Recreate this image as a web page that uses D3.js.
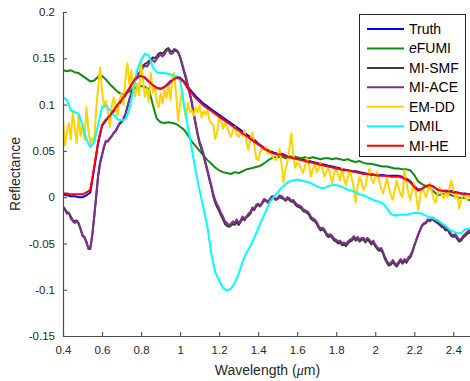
<!DOCTYPE html>
<html>
<head>
<meta charset="utf-8">
<script src="https://cdn.jsdelivr.net/npm/d3@7"></script>
<style>
  html, body { margin: 0; padding: 0; background: #fff; }
  svg { display: block; font-family: "Liberation Sans", Arial, Helvetica, sans-serif; }
</style>
</head>
<body>
<svg id="chart" width="470" height="381"></svg>
<script>
// Band centres (µm): 0.02 µm spacing for the smooth signatures, 0.01 µm for the noisy ones
const bands = d3.range(0, 106).map(i => +(0.40 + i * 0.02).toFixed(2));
const bandsFine = d3.range(0, 211).map(i => +(0.40 + i * 0.01).toFixed(2));

const truth = [
  0.003,0.002,0.001,0.001,0.000,0.000,0.002,0.005,0.031,0.058,
  0.077,0.083,0.087,0.093,0.099,0.104,0.110,0.117,0.124,0.129,
  0.131,0.129,0.125,0.121,0.118,0.117,0.119,0.123,0.127,0.130,
  0.129,0.125,0.119,0.114,0.109,0.105,0.101,0.098,0.095,0.092,
  0.089,0.086,0.083,0.080,0.077,0.074,0.071,0.068,0.065,0.062,
  0.058,0.055,0.052,0.050,0.048,0.047,0.047,0.045,0.044,0.043,
  0.042,0.041,0.040,0.039,0.038,0.037,0.036,0.035,0.034,0.033,
  0.032,0.031,0.030,0.029,0.028,0.028,0.027,0.026,0.025,0.025,
  0.024,0.024,0.024,0.023,0.023,0.023,0.023,0.022,0.020,0.017,
  0.012,0.008,0.009,0.012,0.013,0.011,0.008,0.007,0.007,0.007,
  0.006,0.005,0.004,0.004,0.003,0.003
];

const efumi = [
  0.137,0.136,0.137,0.135,0.134,0.131,0.128,0.125,0.126,0.130,
  0.131,0.127,0.122,0.118,0.114,0.111,0.112,0.114,0.117,0.119,
  0.120,0.119,0.117,0.100,0.085,0.081,0.080,0.081,0.080,0.079,
  0.076,0.073,0.067,0.060,0.055,0.050,0.045,0.040,0.036,0.032,
  0.029,0.027,0.026,0.025,0.027,0.026,0.028,0.030,0.031,0.032,
  0.033,0.035,0.038,0.041,0.043,0.043,0.044,0.042,0.043,0.044,
  0.043,0.042,0.043,0.042,0.043,0.042,0.041,0.042,0.042,0.041,
  0.042,0.041,0.040,0.041,0.039,0.038,0.039,0.037,0.036,0.036,
  0.035,0.034,0.033,0.033,0.032,0.031,0.031,0.030,0.030,0.029,
  0.024,0.017,0.014,0.012,0.010,0.006,0.002,0.003,0.004,0.003,
  0.001,0.000,-0.001,-0.001,-0.003,-0.003
];

const miSmf = [
  -0.010,-0.013,-0.016,-0.017,-0.021,-0.025,-0.026,-0.025,-0.028,-0.034,
  -0.041,-0.043,-0.048,-0.055,-0.056,-0.042,-0.022,0.000,0.022,0.036,
  0.045,0.054,0.060,0.061,0.063,0.066,0.069,0.072,0.076,0.079,
  0.081,0.085,0.090,0.098,0.105,0.112,0.120,0.128,0.133,0.134,
  0.138,0.142,0.144,0.145,0.147,0.149,0.151,0.150,0.152,0.155,
  0.156,0.155,0.157,0.160,0.161,0.158,0.157,0.160,0.159,0.157,
  0.151,0.143,0.135,0.128,0.119,0.111,0.101,0.089,0.078,0.067,
  0.058,0.051,0.045,0.036,0.028,0.019,0.011,0.001,-0.006,-0.011,
  -0.015,-0.020,-0.024,-0.029,-0.031,-0.032,-0.031,-0.029,-0.030,-0.027,
  -0.030,-0.027,-0.023,-0.025,-0.022,-0.020,-0.018,-0.013,-0.014,-0.010,
  -0.008,-0.010,-0.007,-0.004,-0.004,-0.006,-0.003,0.000,-0.001,-0.003,
  -0.002,0.000,-0.001,-0.002,-0.004,-0.002,-0.003,-0.005,-0.005,-0.008,
  -0.010,-0.011,-0.012,-0.015,-0.016,-0.017,-0.019,-0.023,-0.025,-0.026,
  -0.029,-0.033,-0.036,-0.035,-0.037,-0.041,-0.043,-0.042,-0.044,-0.047,
  -0.048,-0.050,-0.049,-0.052,-0.051,-0.053,-0.050,-0.048,-0.047,-0.044,
  -0.047,-0.045,-0.048,-0.046,-0.046,-0.049,-0.046,-0.048,-0.051,-0.049,
  -0.053,-0.056,-0.058,-0.057,-0.061,-0.067,-0.071,-0.074,-0.073,-0.070,
  -0.073,-0.075,-0.072,-0.069,-0.072,-0.069,-0.071,-0.067,-0.065,-0.060,
  -0.053,-0.047,-0.041,-0.036,-0.031,-0.029,-0.028,-0.025,-0.026,-0.024,
  -0.025,-0.027,-0.028,-0.030,-0.032,-0.033,-0.036,-0.035,-0.039,-0.042,
  -0.043,-0.042,-0.045,-0.048,-0.047,-0.044,-0.042,-0.040,-0.038,-0.039,
  -0.036
];

const miAce = [
  -0.012,-0.014,-0.018,-0.017,-0.023,-0.026,-0.028,-0.026,-0.029,-0.035,
  -0.042,-0.044,-0.049,-0.056,-0.054,-0.040,-0.020,0.002,0.024,0.038,
  0.046,0.055,0.061,0.060,0.064,0.066,0.070,0.071,0.075,0.080,
  0.082,0.084,0.089,0.097,0.106,0.111,0.118,0.126,0.131,0.132,
  0.135,0.140,0.142,0.141,0.144,0.147,0.148,0.146,0.149,0.152,
  0.154,0.152,0.154,0.158,0.159,0.155,0.155,0.158,0.158,0.156,
  0.152,0.145,0.137,0.130,0.121,0.113,0.103,0.091,0.080,0.069,
  0.060,0.054,0.047,0.038,0.030,0.021,0.013,0.004,-0.003,-0.008,
  -0.012,-0.017,-0.021,-0.026,-0.028,-0.030,-0.029,-0.026,-0.028,-0.024,
  -0.028,-0.025,-0.021,-0.023,-0.021,-0.018,-0.016,-0.011,-0.013,-0.008,
  -0.007,-0.009,-0.006,-0.002,-0.003,-0.005,-0.002,0.001,0.001,-0.002,
  -0.001,0.002,0.001,-0.001,-0.003,0.000,-0.001,-0.004,-0.003,-0.006,
  -0.008,-0.009,-0.010,-0.013,-0.014,-0.015,-0.017,-0.021,-0.023,-0.024,
  -0.027,-0.031,-0.034,-0.033,-0.035,-0.039,-0.041,-0.040,-0.042,-0.045,
  -0.046,-0.048,-0.047,-0.050,-0.049,-0.051,-0.048,-0.046,-0.045,-0.042,
  -0.045,-0.043,-0.046,-0.044,-0.044,-0.047,-0.044,-0.046,-0.049,-0.047,
  -0.051,-0.054,-0.056,-0.055,-0.059,-0.065,-0.069,-0.072,-0.071,-0.068,
  -0.071,-0.073,-0.070,-0.067,-0.070,-0.067,-0.069,-0.065,-0.063,-0.058,
  -0.052,-0.046,-0.040,-0.035,-0.030,-0.028,-0.027,-0.024,-0.025,-0.022,
  -0.023,-0.025,-0.026,-0.028,-0.030,-0.031,-0.034,-0.033,-0.037,-0.040,
  -0.041,-0.040,-0.043,-0.046,-0.045,-0.042,-0.040,-0.038,-0.036,-0.037,
  -0.035
];

const emdd = [
  0.083,0.056,0.070,0.080,0.062,0.092,0.075,0.058,0.088,0.066,
  0.078,0.062,0.097,0.072,0.058,0.064,0.060,0.095,0.118,0.140,
  0.116,0.097,0.104,0.092,0.076,0.098,0.108,0.097,0.088,0.105,
  0.112,0.100,0.128,0.145,0.122,0.137,0.116,0.109,0.123,0.110,
  0.145,0.126,0.108,0.118,0.103,0.134,0.113,0.120,0.104,0.097,
  0.112,0.101,0.116,0.107,0.122,0.105,0.130,0.134,0.110,0.083,
  0.100,0.116,0.098,0.086,0.102,0.092,0.094,0.088,0.097,0.092,
  0.099,0.086,0.093,0.089,0.094,0.084,0.080,0.078,0.063,0.070,
  0.086,0.083,0.074,0.080,0.076,0.070,0.065,0.072,0.076,0.068,
  0.065,0.070,0.066,0.072,0.060,0.051,0.062,0.070,0.058,0.042,
  0.040,0.048,0.054,0.051,0.054,0.047,0.050,0.045,0.042,0.040,
  0.046,0.052,0.036,0.016,0.030,0.038,0.052,0.069,0.045,0.032,
  0.037,0.036,0.030,0.026,0.034,0.042,0.036,0.022,0.030,0.036,
  0.027,0.031,0.038,0.030,0.022,0.028,0.032,0.024,0.015,0.027,
  0.031,0.024,0.018,0.031,0.020,0.013,0.022,0.029,0.020,0.010,
  -0.006,0.012,0.022,0.016,0.008,0.012,0.024,0.031,0.020,0.015,
  0.021,0.027,0.018,0.010,0.004,0.012,0.020,0.010,0.002,-0.003,
  0.008,0.018,0.010,0.003,0.000,0.029,0.016,0.004,-0.003,0.008,
  0.015,0.002,-0.014,0.000,0.011,0.006,0.000,0.007,0.015,0.006,
  -0.002,-0.006,0.004,0.011,0.004,-0.001,0.005,0.000,0.010,0.018,
  0.008,-0.001,0.005,-0.012,-0.004,0.004,0.000,-0.003,0.002,-0.002,
  0.001
];

const dmil = [
  0.108,0.105,0.094,0.092,0.090,0.078,0.062,0.054,0.060,0.078,
  0.097,0.099,0.094,0.089,0.084,0.083,0.084,0.095,0.115,0.137,
  0.148,0.155,0.153,0.140,0.135,0.134,0.134,0.133,0.132,0.130,
  0.127,0.100,0.076,0.052,0.028,0.007,-0.012,-0.032,-0.061,-0.081,
  -0.090,-0.098,-0.101,-0.099,-0.093,-0.083,-0.070,-0.060,-0.053,-0.044,
  -0.034,-0.024,-0.015,-0.005,0.000,0.005,0.010,0.014,0.017,0.018,
  0.019,0.018,0.017,0.016,0.014,0.012,0.010,0.010,0.012,0.013,
  0.013,0.012,0.010,0.008,0.007,0.005,0.003,0.002,0.000,-0.002,
  -0.004,-0.005,-0.007,-0.012,-0.018,-0.020,-0.019,-0.019,-0.019,-0.018,
  -0.017,-0.017,-0.018,-0.020,-0.022,-0.023,-0.025,-0.028,-0.031,-0.035,
  -0.037,-0.039,-0.039,-0.035,-0.034,-0.033
];

const miHe = [
  0.004,0.004,0.003,0.003,0.003,0.003,0.005,0.008,0.033,0.060,
  0.078,0.084,0.088,0.094,0.100,0.105,0.111,0.118,0.125,0.130,
  0.131,0.129,0.125,0.121,0.118,0.117,0.119,0.122,0.126,0.129,
  0.128,0.124,0.117,0.112,0.107,0.103,0.099,0.096,0.093,0.090,
  0.087,0.084,0.081,0.078,0.075,0.072,0.069,0.066,0.063,0.060,
  0.057,0.054,0.051,0.049,0.047,0.046,0.046,0.044,0.043,0.042,
  0.041,0.040,0.039,0.038,0.037,0.036,0.035,0.034,0.033,0.032,
  0.031,0.030,0.029,0.029,0.028,0.027,0.026,0.025,0.025,0.024,
  0.024,0.023,0.023,0.023,0.022,0.022,0.022,0.021,0.019,0.016,
  0.011,0.007,0.009,0.012,0.013,0.011,0.008,0.007,0.006,0.006,
  0.005,0.005,0.004,0.003,0.003,0.003
];

const seriesNames = ["Truth", "eFUMI", "MI-SMF", "MI-ACE", "EM-DD", "DMIL", "MI-HE"];
const seriesColors = ["#0000ff", "#138a13", "#3a3a3a", "#7e2f8e", "#ffd200", "#00ffff", "#ff0000"];
const seriesValues = [truth, efumi, miSmf, miAce, emdd, dmil, miHe];
const seriesBands = [bands, bands, bandsFine, bandsFine, bandsFine, bands, bands];

const xTicks = [0.4, 0.6, 0.8, 1, 1.2, 1.4, 1.6, 1.8, 2, 2.2, 2.4];
const xTickLabels = ["0.4", "0.6", "0.8", "1", "1.2", "1.4", "1.6", "1.8", "2", "2.2", "2.4"];
const yTicks = [-0.15, -0.1, -0.05, 0, 0.05, 0.1, 0.15, 0.2];
const yTickLabels = ["-0.15", "-0.1", "-0.05", "0", "0.05", "0.1", "0.15", "0.2"];

const svg = d3.select("#chart");
const plot = { left: 63, right: 472.8, top: 12, bottom: 336 };

const x = d3.scaleLinear().domain([0.4, 2.5]).range([plot.left, plot.right]);
const y = d3.scaleLinear().domain([-0.15, 0.2]).range([plot.bottom, plot.top]);

svg.append("defs").append("clipPath").attr("id", "plotClip")
  .append("rect")
  .attr("x", plot.left).attr("y", plot.top - 2)
  .attr("width", plot.right - plot.left).attr("height", plot.bottom - plot.top + 2);

// Spectra
const line = d3.line().x(d => x(d[0])).y(d => y(d[1]));
const lines = svg.append("g").attr("clip-path", "url(#plotClip)");
seriesNames.forEach((name, i) => {
  const pts = seriesBands[i].map((b, j) => [b, seriesValues[i][j]]);
  lines.append("path")
    .datum(pts)
    .attr("fill", "none")
    .attr("stroke", seriesColors[i])
    .attr("stroke-width", 2)
    .attr("stroke-linejoin", "round")
    .attr("d", line);
});

// Axes
const axisColor = "#4d4d4d";
const xAxis = d3.axisBottom(x)
  .tickValues(xTicks)
  .tickFormat((d, i) => xTickLabels[i])
  .tickSizeInner(-4).tickSizeOuter(0).tickPadding(10);
const yAxis = d3.axisLeft(y)
  .tickValues(yTicks)
  .tickFormat((d, i) => yTickLabels[i])
  .tickSizeInner(-4).tickSizeOuter(0).tickPadding(8);

const gx = svg.append("g").attr("transform", `translate(0,${plot.bottom})`).call(xAxis);
const gy = svg.append("g").attr("transform", `translate(${plot.left},0)`).call(yAxis);
[gx, gy].forEach(g => {
  g.select(".domain").attr("stroke", axisColor).attr("stroke-width", 1.2);
  g.selectAll(".tick line").attr("stroke", axisColor).attr("stroke-width", 1.1);
  g.selectAll(".tick text")
    .attr("fill", "#262626")
    .style("font-size", "11.5px")
    .style("font-family", "'Liberation Sans', Arial, Helvetica, sans-serif");
});

// Axis titles
const xl = svg.append("text")
  .attr("x", (plot.left + plot.right) / 2 - 0.5)
  .attr("y", 375)
  .attr("text-anchor", "middle")
  .attr("fill", "#262626")
  .style("font-size", "14px");
xl.append("tspan").text("Wavelength (");
xl.append("tspan").attr("font-style", "italic").attr("font-family", "'Liberation Serif', 'Times New Roman', serif").text("\u03bc");
xl.append("tspan").text("m)");

svg.append("text")
  .attr("transform", `translate(20,${(plot.top + plot.bottom) / 2}) rotate(-90)`)
  .attr("text-anchor", "middle")
  .attr("fill", "#262626")
  .style("font-size", "14px")
  .text("Reflectance");

// Legend
const lg = svg.append("g");
lg.append("rect")
  .attr("x", 359.5).attr("y", 14.5)
  .attr("width", 106).attr("height", 142)
  .attr("fill", "#fff")
  .attr("stroke", "#262626")
  .attr("stroke-width", 1);
seriesNames.forEach((name, i) => {
  const cy = 29 + i * 19.45;
  lg.append("line")
    .attr("x1", 367).attr("x2", 404)
    .attr("y1", cy).attr("y2", cy)
    .attr("stroke", seriesColors[i])
    .attr("stroke-width", 2);
  const t = lg.append("text")
    .attr("x", 409).attr("y", cy)
    .attr("dy", "0.36em")
    .attr("fill", "#000")
    .style("font-size", "14px");
  if (name === "eFUMI") {
    t.append("tspan").attr("font-style", "italic").text("e");
    t.append("tspan").text("FUMI");
  } else {
    t.text(name);
  }
});
</script>
</body>
</html>
